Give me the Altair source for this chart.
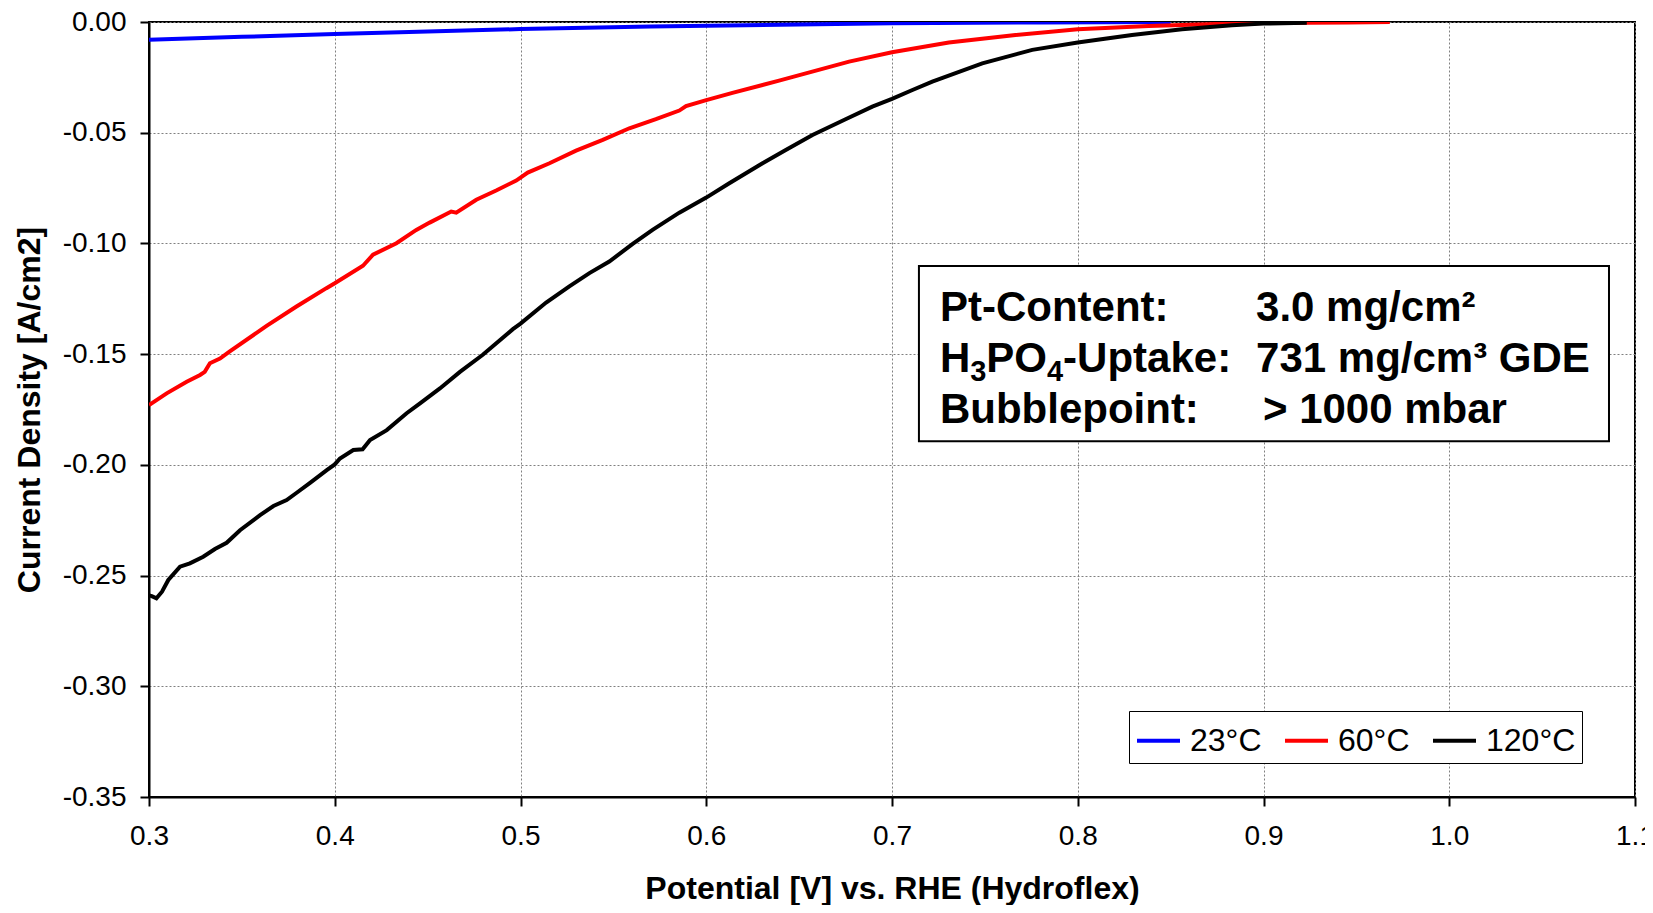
import altair as alt
import pandas as pd

# ---------------- data ----------------
series_names = ["23°C", "60°C", "120°C"]
series_colors = ["#0000FF", "#FF0000", "#000000"]

blue_x = [0.30, 0.35, 0.40, 0.45, 0.50, 0.57, 0.65, 0.70, 0.78, 0.85]
blue_y = [-0.0080, -0.0067, -0.0054, -0.0043, -0.0032, -0.0020, -0.0011, -0.0006, -0.0002, 0.0]

red_x = [0.300, 0.3095, 0.3203, 0.3275, 0.3300, 0.3328, 0.3382, 0.3435, 0.3633, 0.3794,
         0.3955, 0.400, 0.4152, 0.4206, 0.4332, 0.4439, 0.4511, 0.4627, 0.4654, 0.4762,
         0.4869, 0.4977, 0.5039, 0.5156, 0.5299, 0.5443, 0.5586, 0.5729, 0.5855, 0.5891,
         0.600, 0.6141, 0.6392, 0.6769, 0.700, 0.7306, 0.7665, 0.800, 0.8382, 0.874,
         0.900, 0.9457, 0.968]
red_y = [-0.1730, -0.1677, -0.1625, -0.1594, -0.1580, -0.1541, -0.1520, -0.1488, -0.1372, -0.1285,
         -0.1202, -0.1180, -0.1101, -0.1051, -0.0999, -0.0939, -0.0906, -0.0856, -0.0861, -0.0803,
         -0.0761, -0.0716, -0.0680, -0.0638, -0.0581, -0.0532, -0.0480, -0.0439, -0.0400, -0.0380,
         -0.0353, -0.0320, -0.0265, -0.0179, -0.0137, -0.0093, -0.0059, -0.0033, -0.0018, -0.0009,
         -0.0005, -0.0002, 0.0]

black_x = [0.300, 0.3015, 0.3040, 0.3070, 0.3104, 0.3167, 0.3220, 0.3292, 0.3355, 0.3418,
           0.3490, 0.3598, 0.3670, 0.3741, 0.3795, 0.3867, 0.3957, 0.4000, 0.4028, 0.4100,
           0.4150, 0.4190, 0.4280, 0.4387, 0.4459, 0.4566, 0.4674, 0.4797, 0.4959, 0.5000,
           0.5138, 0.5263, 0.5371, 0.5478, 0.5604, 0.5711, 0.5855, 0.6000, 0.6124, 0.6303,
           0.6428, 0.6572, 0.6750, 0.6894, 0.7000, 0.7110, 0.7217, 0.7486, 0.7755, 0.8000,
           0.8292, 0.8561, 0.8830, 0.9000, 0.9233]
black_y = [-0.2590, -0.2593, -0.2603, -0.2573, -0.2520, -0.2460, -0.2445, -0.2415, -0.2380, -0.2352,
           -0.2295, -0.2227, -0.2186, -0.2159, -0.2126, -0.2081, -0.2024, -0.1998, -0.1971, -0.1933,
           -0.1930, -0.1888, -0.1843, -0.1767, -0.1722, -0.1655, -0.1580, -0.1503, -0.1387, -0.1362,
           -0.1267, -0.1194, -0.1134, -0.1082, -0.1002, -0.0939, -0.0861, -0.0793, -0.0728, -0.0638,
           -0.0578, -0.0510, -0.0439, -0.0382, -0.0347, -0.0307, -0.0269, -0.0187, -0.0126, -0.0093,
           -0.0059, -0.0033, -0.0015, -0.0007, -0.0003]

x_ticks = [0.3, 0.4, 0.5, 0.6, 0.7, 0.8, 0.9, 1.0, 1.1]
y_ticks = [0.0, -0.05, -0.10, -0.15, -0.20, -0.25, -0.30, -0.35]

info_labels = ["Pt-Content:", "Bubblepoint:"]
info_values = ["3.0 mg/cm²", "731 mg/cm³ GDE", "> 1000 mbar"]

# ---------------- build table ----------------
rows = []
for name, xs, ys in [(series_names[0], blue_x, blue_y),
                     (series_names[1], red_x, red_y),
                     (series_names[2], black_x, black_y)]:
    for i, (a, b) in enumerate(zip(xs, ys)):
        rows.append({"series": name, "V": a, "J": b, "idx": i})
df = pd.DataFrame(rows)

FONT = "Liberation Sans"
W, H = 1486, 775

x_scale = alt.Scale(domain=[0.3, 1.1], nice=False, zero=False)
y_scale = alt.Scale(domain=[-0.35, 0.0], nice=False, zero=False)

x_axis = alt.Axis(
    values=x_ticks, format=".1f", labelFontSize=28, labelFont=FONT, labelColor="black",
    labelFlush=False, labelOverlap=False, labelPadding=16,
    tickSize=9, tickWidth=2, tickColor="black", domainColor="black", domainWidth=2,
    grid=True, gridColor="#808080", gridDash=[2, 2], gridWidth=1,
    title="Potential [V] vs. RHE (Hydroflex)", titleFontSize=32, titleFont=FONT,
    titleFontWeight="bold", titleColor="black", titleX=W / 2, titleY=101,
    titleBaseline="alphabetic", titleAlign="center",
)
y_axis = alt.Axis(
    values=y_ticks, labelExpr="replace(format(datum.value, '.2f'), '\u2212', '-')",
    labelFontSize=28, labelFont=FONT, labelColor="black",
    labelFlush=False, labelOverlap=False, labelPadding=14,
    tickSize=9, tickWidth=2, tickColor="black", domainColor="black", domainWidth=2,
    grid=True, gridColor="#808080", gridDash=[2, 2], gridWidth=1,
    title="Current Density [A/cm2]", titleFontSize=32, titleFont=FONT,
    titleFontWeight="bold", titleColor="black", titleX=-120, titleY=H / 2,
    titleBaseline="middle", titleAlign="center", titleAngle=270,
)

lines = alt.Chart(df).mark_line(strokeWidth=4, clip=True).encode(
    x=alt.X("V:Q", scale=x_scale, axis=x_axis),
    y=alt.Y("J:Q", scale=y_scale, axis=y_axis),
    color=alt.Color(
        "series:N",
        scale=alt.Scale(domain=series_names, range=series_colors),
        legend=alt.Legend(
            title=None, orient="none", legendX=980, legendY=689, direction="horizontal",
            columns=3, symbolType="stroke", symbolStrokeWidth=4, symbolSize=1849,
            labelFontSize=32, labelFont=FONT, labelColor="black", labelOffset=8,
            columnPadding=15, padding=6, strokeColor="black", fillColor="white",
        ),
    ),
    order="idx:Q",
)

# ---------------- info box ----------------
box_df = pd.DataFrame([{"x1": 0.7145, "x2": 1.0860, "y1": -0.1102, "y2": -0.1893}])
box = alt.Chart(box_df).mark_rect(fill="white", stroke="black", strokeWidth=2).encode(
    x=alt.X("x1:Q", scale=x_scale), x2="x2:Q",
    y=alt.Y("y1:Q", scale=y_scale), y2="y2:Q",
)

col1, col2, col3 = 0.7258, 0.8960, 0.8997
r1, r2, r3 = -0.1350, -0.1581, -0.1811


def txt(s, x, y, size=42, dx=0, dy=0):
    d = pd.DataFrame([{"x": x, "y": y, "t": s}])
    return alt.Chart(d).mark_text(
        font=FONT, fontWeight="bold", fontSize=size, align="left",
        baseline="alphabetic", color="black", dx=dx, dy=dy,
    ).encode(x=alt.X("x:Q", scale=x_scale), y=alt.Y("y:Q", scale=y_scale), text="t:N")


texts = [
    txt(info_labels[0], col1, r1),
    txt(info_values[0], col2, r1),
    txt("H", col1, r2),
    txt("3", col1, r2, size=29, dx=30.3, dy=9),
    txt("PO", col1, r2, dx=46.4),
    txt("4", col1, r2, size=29, dx=107.1, dy=9),
    txt("-Uptake:", col1, r2, dx=123.2),
    txt(info_values[1], col2, r2),
    txt(info_labels[1], col1, r3),
    txt(info_values[2], col3, r3),
]

chart = alt.layer(lines, box, *texts).properties(
    width=W, height=H,
    autosize=alt.AutoSizeParams(type="none"),
    padding={"left": 141, "top": 14, "right": 10, "bottom": 108},
).configure_view(stroke="black", strokeWidth=2)

chart.save("out.html", embed_options={"renderer": "svg", "actions": False})
